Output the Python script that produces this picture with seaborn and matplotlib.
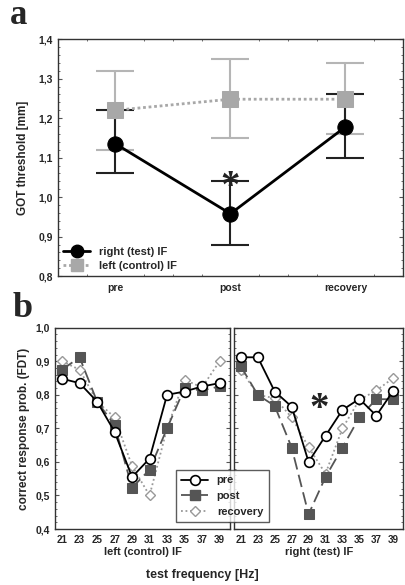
import numpy as np
import pandas as pd
import matplotlib
matplotlib.use("Agg")
import matplotlib.pyplot as plt
from matplotlib.ticker import AutoMinorLocator
from matplotlib.lines import Line2D
import seaborn as sns

# panel a: GOT threshold
sessions = ["pre", "post", "recovery"]
got_test = [1.135, 0.958, 1.178]
got_test_lo = [1.06, 0.88, 1.10]
got_test_hi = [1.22, 1.04, 1.26]
got_ctrl = [1.22, 1.248, 1.248]
got_ctrl_lo = [1.12, 1.15, 1.16]
got_ctrl_hi = [1.32, 1.35, 1.34]
a_yticks = [0.8, 0.9, 1.0, 1.1, 1.2, 1.3, 1.4]
a_yticklabels = ["0,8", "0,9", "1,0", "1,1", "1,2", "1,3", "1,4"]

# panel b: FDT correct response probability
freqs = [21, 23, 25, 27, 29, 31, 33, 35, 37, 39]
left_pre = [0.848, 0.835, 0.78, 0.69, 0.555, 0.61, 0.80, 0.81, 0.825, 0.835]
left_post = [0.875, 0.912, 0.78, 0.71, 0.523, 0.577, 0.70, 0.82, 0.813, 0.825]
left_rec = [0.90, 0.875, 0.78, 0.733, 0.588, 0.50, 0.70, 0.845, 0.822, 0.90]
right_pre = [0.912, 0.912, 0.81, 0.765, 0.60, 0.678, 0.755, 0.788, 0.738, 0.812]
right_post = [0.885, 0.80, 0.767, 0.643, 0.444, 0.555, 0.643, 0.733, 0.787, 0.787]
right_rec = [0.875, 0.80, 0.79, 0.733, 0.644, 0.565, 0.70, 0.785, 0.813, 0.85]
b_yticks = [0.4, 0.5, 0.6, 0.7, 0.8, 0.9, 1.0]
b_yticklabels = ["0,4", "0,5", "0,6", "0,7", "0,8", "0,9", "1,0"]

sns.set_style("ticks")
plt.rcParams['font.family'] = ['Liberation Sans', 'DejaVu Sans']
plt.rcParams['font.weight'] = 'bold'

fig = plt.figure(figsize=(4.05, 5.85), dpi=100)

def frame(ax):
    for s in ax.spines.values():
        s.set_visible(True)
        s.set_linewidth(1.0)
        s.set_color("#333333")
    ax.yaxis.set_minor_locator(AutoMinorLocator(5))
    ax.tick_params(which="both", direction="in", top=True, right=True,
                   labelsize=7.5, length=3, color="#555555")
    ax.tick_params(which="minor", length=1.5)

# ---------- panel a ----------
ax = fig.add_axes([0.143, 0.528, 0.852, 0.405])
xs = np.arange(len(sessions))
df_a = pd.DataFrame({"x": list(xs) * 2,
                     "y": got_test + got_ctrl,
                     "grp": ["right (test) IF"] * 3 + ["left (control) IF"] * 3})

ax.errorbar(xs, got_ctrl, yerr=[np.array(got_ctrl) - got_ctrl_lo, np.array(got_ctrl_hi) - got_ctrl],
            fmt="none", ecolor="#b5b5b5", elinewidth=1.5, capsize=14, capthick=1.5, zorder=1)
ax.errorbar(xs, got_test, yerr=[np.array(got_test) - got_test_lo, np.array(got_test_hi) - got_test],
            fmt="none", ecolor="#222222", elinewidth=1.5, capsize=14, capthick=1.5, zorder=2)
sns.lineplot(data=df_a[df_a.grp == "left (control) IF"], x="x", y="y", ax=ax,
             color="#a8a8a8", lw=2, linestyle=(0, (1, 1)), marker="s", markersize=11,
             markeredgecolor="#a8a8a8", zorder=3)
sns.lineplot(data=df_a[df_a.grp == "right (test) IF"], x="x", y="y", ax=ax,
             color="black", lw=2, marker="o", markersize=11, markeredgecolor="black", zorder=4)
ax.text(1, 1.025, "*", ha="center", va="center", fontsize=28, family="Liberation Serif", color="#222222")

ax.set_xlim(-0.5, 2.5)
ax.set_ylim(0.8, 1.4)
ax.set_xticks(xs)
ax.set_xticklabels(sessions, fontsize=8, fontweight="bold")
ax.set_yticks(a_yticks)
ax.set_yticklabels(a_yticklabels)
ax.set_xlabel("")
ax.set_ylabel("GOT threshold [mm]", fontsize=8.5, fontweight="bold", labelpad=7)
frame(ax)
ax.tick_params(axis="x", which="major", length=0, pad=5)
ax.xaxis.set_minor_locator(AutoMinorLocator(4))

handles_a = [Line2D([], [], color="black", lw=2, marker="o", markersize=9),
             Line2D([], [], color="#a8a8a8", lw=2, linestyle=(0, (1, 1)), marker="s", markersize=9)]
ax.legend(handles_a, ["right (test) IF", "left (control) IF"], loc="lower left", frameon=False,
          handlelength=2.4, borderaxespad=0.1, labelspacing=0.3,
          prop={"weight": "bold", "size": 8})

fig.text(0.025, 0.945, "a", fontsize=25, fontweight="bold", family="Liberation Serif", va="bottom")

# ---------- panel b ----------
styles = {
    "pre": dict(color="black", lw=1.3, linestyle="-", marker="o", markersize=7,
                markerfacecolor="white", markeredgecolor="black", markeredgewidth=1.2),
    "post": dict(color="#555555", lw=1.3, linestyle=(0, (7, 3)), marker="s", markersize=7,
                 markerfacecolor="#555555", markeredgecolor="#555555"),
    "recovery": dict(color="#999999", lw=1.3, linestyle=(0, (1, 1.5)), marker="D", markersize=5,
                     markerfacecolor="white", markeredgecolor="#999999", markeredgewidth=1.0),
}

panels = [([0.136, 0.0957, 0.432, 0.344], left_pre, left_post, left_rec, "left (control) IF"),
          ([0.578, 0.0957, 0.418, 0.344], right_pre, right_post, right_rec, "right (test) IF")]

for i, (pos, pre, post, rec, lab) in enumerate(panels):
    bx = fig.add_axes(pos)
    for name, vals in [("recovery", rec), ("post", post), ("pre", pre)]:
        d = pd.DataFrame({"f": freqs, "p": vals})
        sns.lineplot(data=d, x="f", y="p", ax=bx, **styles[name])
    bx.set_xlim(20.2, 40.2)
    bx.set_ylim(0.4, 1.0)
    bx.set_xticks(freqs)
    bx.set_yticks(b_yticks)
    bx.set_xlabel(lab, fontsize=8, fontweight="bold", labelpad=2)
    frame(bx)
    bx.tick_params(axis="x", which="major", length=0, pad=4)
    bx.tick_params(axis="x", labelsize=7)
    if i == 0:
        bx.set_yticklabels(b_yticklabels)
        bx.set_ylabel("correct response prob. (FDT)", fontsize=8.5, fontweight="bold", labelpad=4)
    else:
        bx.set_yticklabels([])
        bx.set_ylabel("")
        bx.text(30.2, 0.755, "*", ha="center", va="center", fontsize=28,
                family="Liberation Serif", color="#222222")

handles_b = [Line2D([], [], **styles[k]) for k in ["pre", "post", "recovery"]]
leg = fig.legend(handles_b, ["pre", "post", "recovery"], loc="lower left",
                 bbox_to_anchor=(0.42, 0.098), frameon=True, fancybox=False,
                 handlelength=2.4, labelspacing=0.5, borderpad=0.5,
                 prop={"weight": "bold", "size": 8})
leg.get_frame().set_edgecolor("#333333")
leg.get_frame().set_linewidth(1.0)

fig.text(0.5, 0.012, "test frequency [Hz]", ha="center", fontsize=9, fontweight="bold")
fig.text(0.03, 0.445, "b", fontsize=26, fontweight="bold", family="Liberation Serif", va="bottom")

fig.savefig("out.png", dpi=100)
